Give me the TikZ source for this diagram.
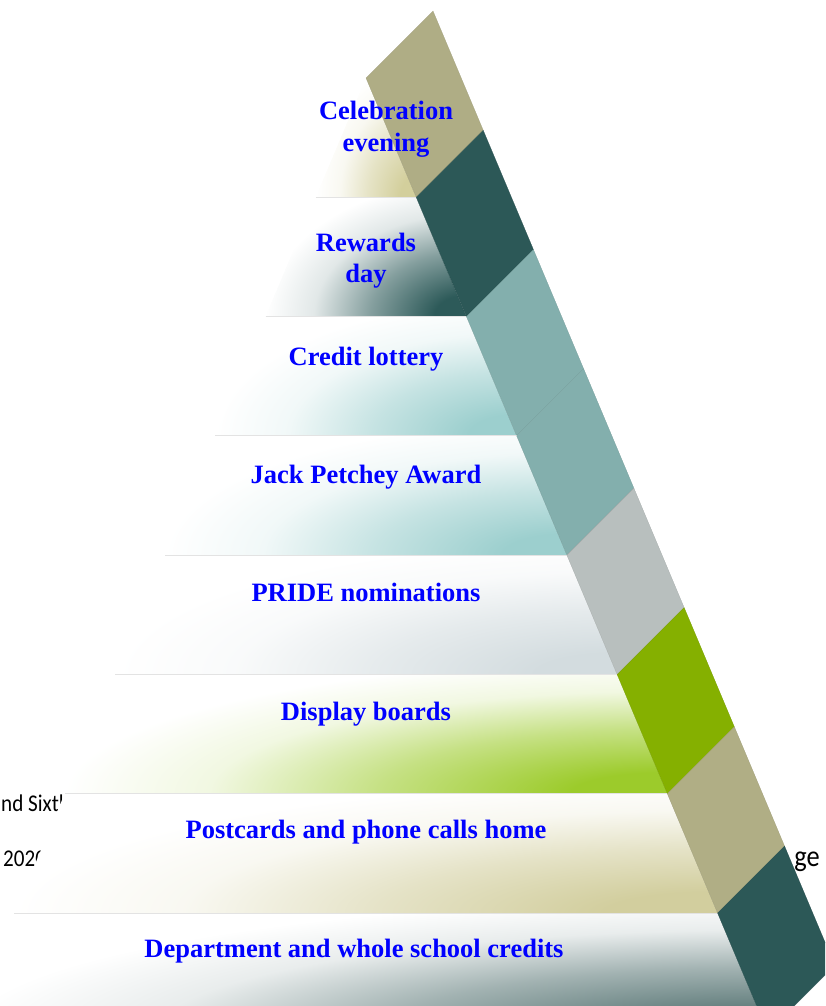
\documentclass[tikz,border=0pt]{standalone}
\usepackage{fontspec}
\newfontfamily\lblfont{Liberation Serif}
\newfontfamily\notefont{Carlito}[FakeStretch=0.88]

% tier glow colours (inner) and side-face colours
\definecolor{L1}{HTML}{D3CF9C}\definecolor{B1}{HTML}{AFAD85}
\definecolor{L2}{HTML}{2D5A59}\definecolor{B2}{HTML}{2C5857}
\definecolor{L3}{HTML}{9CCFCE}\definecolor{B3}{HTML}{83AFAD}
\definecolor{L4}{HTML}{9CCFCE}\definecolor{B4}{HTML}{83AFAD}
\definecolor{L5}{HTML}{D3DCDF}\definecolor{B5}{HTML}{B8BFBE}
\definecolor{L6}{HTML}{9CCB2B}\definecolor{B6}{HTML}{85B000}
\definecolor{L7}{HTML}{D2CE9E}\definecolor{B7}{HTML}{B0AE85}
\definecolor{L8}{HTML}{5F7B7A}\definecolor{B8}{HTML}{2C5857}
\definecolor{labelblue}{HTML}{0000FF}

% one radial glow per tier, strongest at the tier's lower right corner
\newcommand\makeglow[1]{%
  \colorlet{L#1m}{L#1!58!white}%
  \colorlet{L#1l}{L#1!14!white}%
  \pgfdeclareradialshading{glow#1}{\pgfpoint{0bp}{0bp}}{%
    color(0bp)=(L#1); color(4bp)=(L#1); color(12bp)=(L#1m);
    color(19bp)=(L#1l); color(25bp)=(white); color(50bp)=(white)}}
\makeglow{1}\makeglow{2}\makeglow{3}\makeglow{4}
\makeglow{5}\makeglow{6}\makeglow{7}\makeglow{8}

\begin{document}
\begin{tikzpicture}[x=1pt,y=-1pt,
  tier/.style={font=\lblfont\bfseries\fontsize{26.5}{31}\selectfont,
    text=labelblue, inner sep=0pt, anchor=base},
  note/.style={font=\notefont\fontsize{24}{28}\selectfont,
    text=black, inner sep=0pt},
  sep/.style={draw=gray!22, line width=0.9pt}]
\useasboundingbox (0,0) rectangle (825,1006);
\clip (0,0) rectangle (825,1006);

% page text lying behind the pyramid
\node[note, anchor=base west] (sixth) at (1,811) {nd Sixth};
\node[note, anchor=base west] (year) at (3,866) {2020};
\node[note, anchor=base east, font=\notefont\fontsize{30}{34}\selectfont] (pg) at (820,866) {ge};

% tiers: apex (366,78), tier height 119.3, half-width grows 0.421 per unit
\foreach \i in {1,...,8} {
  \pgfmathsetmacro\yt{78+(\i-1)*119.3}
  \pgfmathsetmacro\yb{78+\i*119.3}
  \pgfmathsetmacro\wt{(\yt-78)*0.421}
  \pgfmathsetmacro\wb{(\yb-78)*0.421}
  \pgfmathsetmacro\rx{2*\wb}
  \begin{scope}
    \fill[white] (366-\wt,\yt) -- (366+\wt,\yt) -- (366+\wb,\yb) -- (366-\wb,\yb) -- cycle;
    \clip (366-\wt,\yt) -- (366+\wt,\yt) -- (366+\wb,\yb) -- (366-\wb,\yb) -- cycle;
    \shade[shading=glow\i] (366+\wb,\yb) ellipse [x radius=\rx pt, y radius=135pt];
  \end{scope}
  \ifnum\i>1
    \draw[sep] (366-\wt,\yt) -- (366+\wt,\yt);
  \fi
  % side face
  \filldraw[fill=B\i, draw=B\i!88!black, line width=0.2pt]
    (366+\wt,\yt) -- (366+\wb,\yb) -- (366+\wb+67,\yb-67) -- (366+\wt+67,\yt-67) -- cycle;
}

% tier labels
\node[tier] (t1a) at (386,120) {Celebration};
\node[tier] (t1b) at (386,151) {evening};
\node[tier] (t2a) at (366,251) {Rewards};
\node[tier] (t2b) at (366,282) {day};
\node[tier] (t3) at (366,365) {Credit lottery};
\node[tier] (t4) at (366,483) {Jack Petchey Award};
\node[tier] (t5) at (366,601) {PRIDE nominations};
\node[tier] (t6) at (366,720) {Display boards};
\node[tier] (t7) at (366,838) {Postcards and phone calls home};
\node[tier] (t8) at (354,957) {Department and whole school credits};
\end{tikzpicture}
\end{document}
